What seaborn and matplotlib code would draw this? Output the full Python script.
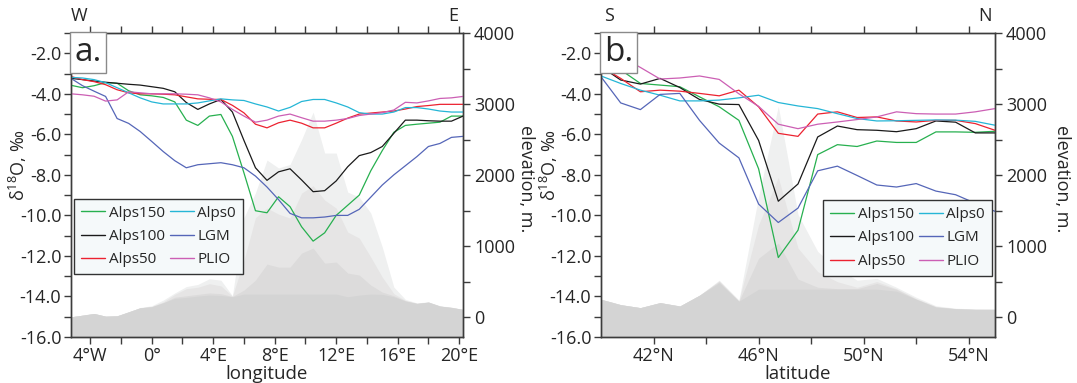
import numpy as np
import pandas as pd
import matplotlib
matplotlib.use("Agg")
import matplotlib.pyplot as plt
from matplotlib.lines import Line2D
from matplotlib.ticker import FixedLocator, FormatStrFormatter
import seaborn as sns

# ---------------- data ----------------
runs = ["Alps150", "Alps100", "Alps50", "Alps0", "LGM", "PLIO"]
run_colors = ["#27b04f", "#1a1a1a", "#ec2230", "#25b6d6", "#5566b8", "#cc5fb4"]

# panel a: W-E transect
lon = [-5.25, -4.5, -3.75, -3.0, -2.25, -1.5, -0.75, 0.0, 0.75, 1.5, 2.25, 3.0,
       3.75, 4.5, 5.25, 6.0, 6.75, 7.5, 8.25, 9.0, 9.75, 10.5, 11.25, 12.0,
       12.75, 13.5, 14.25, 15.0, 15.75, 16.5, 17.25, 18.0, 18.75, 19.5, 20.25]
a_alps150 = [-3.58, -3.7, -3.6, -3.45, -3.48, -3.85, -4.05, -4.1, -4.18, -4.4, -5.3, -5.56,
             -5.1, -5.02, -6.1, -7.9, -9.77, -9.87, -9.08, -9.57, -10.56, -11.27, -10.86, -10.0,
             -9.5, -9.0, -7.8, -6.8, -5.9, -5.56, -5.5, -5.45, -5.4, -5.1, -5.1]
a_alps100 = [-3.24, -3.3, -3.37, -3.43, -3.48, -3.53, -3.57, -3.65, -3.73, -3.9, -4.43, -4.77,
             -4.5, -4.28, -4.9, -6.3, -7.65, -8.27, -7.85, -7.7, -8.25, -8.83, -8.78, -8.3,
             -7.6, -7.05, -6.9, -6.6, -5.95, -5.3, -5.3, -5.33, -5.35, -5.35, -5.1]
a_alps50 = [-3.15, -3.3, -3.4, -3.55, -3.8, -3.95, -4.0, -4.0, -4.02, -4.05, -4.15, -4.25,
            -4.27, -4.28, -4.57, -4.94, -5.5, -5.68, -5.43, -5.3, -5.45, -5.68, -5.68, -5.45,
            -5.2, -5.0, -4.95, -4.9, -4.85, -4.75, -4.63, -4.58, -4.52, -4.52, -4.52]
a_alps0 = [-3.19, -3.22, -3.3, -3.45, -3.7, -3.95, -4.2, -4.4, -4.5, -4.5, -4.5, -4.45,
           -4.35, -4.25, -4.3, -4.33, -4.5, -4.65, -4.85, -4.67, -4.38, -4.28, -4.28, -4.45,
           -4.65, -4.93, -5.0, -5.0, -4.9, -4.68, -4.68, -4.75, -4.85, -4.9, -4.9]
a_lgm = [-3.24, -3.6, -3.87, -4.13, -5.22, -5.46, -5.86, -6.35, -6.85, -7.3, -7.65, -7.5,
         -7.45, -7.4, -7.5, -7.65, -8.06, -8.6, -9.22, -9.9, -10.12, -10.12, -10.08, -10.0,
         -10.0, -9.7, -9.1, -8.5, -8.0, -7.55, -7.1, -6.6, -6.45, -6.15, -6.1]
a_plio = [-4.0, -4.05, -4.12, -4.36, -4.3, -3.9, -3.95, -4.0, -4.0, -4.0, -4.02, -4.05,
          -4.2, -4.4, -4.77, -5.1, -5.4, -5.3, -5.1, -5.0, -5.18, -5.35, -5.35, -5.3,
          -5.22, -5.07, -5.0, -4.93, -4.8, -4.42, -4.45, -4.35, -4.23, -4.2, -4.13]
a_topo_min = [4, 27, 51, 13, 18, 74, 131, 146, 202, 263, 277, 296, 310, 305, 286, 324, 324, 324,
              324, 324, 324, 324, 324, 324, 286, 310, 324, 320, 286, 225, 192, 211, 155, 136, 108]
a_topo_low = [4, 27, 51, 13, 18, 74, 131, 146, 202, 280, 300, 320, 340, 330, 290, 380, 521, 746,
              704, 704, 901, 972, 760, 775, 620, 592, 451, 352, 300, 230, 192, 211, 155, 136, 108]
a_topo_mid = [4, 27, 51, 13, 18, 74, 131, 150, 215, 320, 400, 420, 470, 440, 295, 800, 1400, 1535,
              1450, 1394, 1746, 1850, 1648, 1535, 1197, 1113, 845, 563, 330, 235, 195, 211, 155, 136, 108]
a_topo_max = [4, 27, 51, 13, 18, 74, 135, 160, 240, 340, 430, 460, 540, 520, 300, 1400, 1750, 2211,
              2100, 2150, 2500, 2887, 2310, 2310, 1760, 1690, 1465, 986, 423, 250, 200, 215, 160, 140, 110]

# panel b: S-N transect
lat = [40.0, 40.75, 41.5, 42.25, 43.0, 43.75, 44.5, 45.25, 46.0, 46.75, 47.5,
       48.25, 49.0, 49.75, 50.5, 51.25, 52.0, 52.75, 53.5, 54.25, 55.0]
b_alps150 = [-2.66, -2.82, -3.49, -3.57, -3.65, -4.15, -4.64, -5.31, -7.7, -12.08, -10.73,
             -7.0, -6.51, -6.6, -6.33, -6.4, -6.4, -5.88, -5.88, -5.9, -5.85]
b_alps100 = [-2.66, -3.32, -3.52, -3.24, -3.69, -4.28, -4.51, -4.53, -6.3, -9.3, -8.45,
             -6.13, -5.59, -5.77, -5.8, -5.87, -5.72, -5.34, -5.4, -5.93, -5.93]
b_alps50 = [-2.66, -3.24, -3.9, -3.82, -3.87, -3.98, -4.1, -3.82, -4.64, -5.95, -6.1,
            -5.0, -4.89, -5.17, -5.14, -5.34, -5.39, -5.31, -5.31, -5.47, -5.8]
b_alps0 = [-3.12, -3.49, -3.82, -4.07, -4.35, -4.35, -4.31, -4.2, -4.07, -4.43, -4.6,
           -4.73, -4.98, -5.22, -5.34, -5.33, -5.31, -5.29, -5.3, -5.36, -5.55]
b_lgm = [-3.16, -4.45, -4.78, -4.03, -3.98, -5.31, -6.43, -7.16, -9.44, -10.35, -9.64,
         -7.8, -7.57, -8.03, -8.5, -8.6, -8.43, -8.8, -8.98, -9.4, -9.8]
b_plio = [-1.7, -2.15, -2.7, -3.27, -3.22, -3.12, -3.29, -4.0, -4.62, -5.5, -5.72,
          -5.5, -5.39, -5.27, -5.14, -4.89, -4.98, -5.0, -5.0, -4.89, -4.73]
b_topo_min = [251, 175, 133, 204, 156, 308, 483, 223, 393, 393, 393, 393, 393, 393, 393, 365,
              251, 142, 118, 109, 109]
b_topo_low = [251, 175, 133, 204, 156, 308, 500, 223, 829, 1043, 535, 420, 400, 400, 474, 390,
              251, 142, 118, 109, 109]
b_topo_mid = [251, 175, 133, 204, 156, 308, 510, 230, 1300, 1967, 972, 640, 498, 420, 500, 400,
              260, 150, 120, 110, 110]
b_topo_max = [251, 175, 133, 204, 156, 308, 520, 240, 1700, 2970, 1445, 924, 687, 520, 545, 420,
              280, 160, 125, 115, 112]

a_xticks = [-4, 0, 4, 8, 12, 16, 20]
a_xticklabels = ["4°W", "0°", "4°E", "8°E", "12°E", "16°E", "20°E"]
a_xminor = [-2, 2, 6, 10, 14, 18]
b_xticks = [42, 46, 50, 54]
b_xticklabels = ["42°N", "46°N", "50°N", "54°N"]
b_xminor = [44, 48, 52]
topo_colors = ["#eff0f0", "#e6e5e5", "#dcdbdb", "#d4d4d4"]

# ---------------- style ----------------
sns.set_style("ticks")
FONT = ["Open Sans", "DejaVu Sans"]
plt.rcParams["font.family"] = FONT
plt.rcParams["axes.unicode_minus"] = False
plt.rcParams["mathtext.fontset"] = "custom"
plt.rcParams["mathtext.rm"] = "Open Sans"
plt.rcParams["mathtext.it"] = "Open Sans"
plt.rcParams["mathtext.default"] = "regular"
SPINE = "#3c3c3c"

fig = plt.figure(figsize=(10.77, 3.83), dpi=100)
ax_a = fig.add_axes([71 / 1077, 46 / 383, 392 / 1077, 304 / 383])
ax_b = fig.add_axes([601 / 1077, 46 / 383, 394 / 1077, 304 / 383])


def panel(ax, x, series, topo, xlim, xticks, xlabels, xminor, xlabel,
          tops, letter, leg_loc, leg_anchor, ylab_x, rlab_x):
    ax2 = ax.twinx()
    for layer, c in zip(topo, topo_colors):
        ax2.fill_between(x, -280, layer, color=c, lw=0)
    ax2.set_ylim(-280, 4000)
    ax2.yaxis.set_major_locator(FixedLocator([0, 1000, 2000, 3000, 4000]))
    ax2.yaxis.set_minor_locator(FixedLocator([500, 1500, 2500, 3500]))
    ax2.tick_params(axis="y", which="both", direction="out", length=5, width=1,
                    color=SPINE, labelsize=13, pad=3)
    ax2.set_ylabel("elevation, m.", rotation=270, fontsize=13, va="center")
    ax2.yaxis.set_label_coords(rlab_x, 0.52)

    df = pd.DataFrame({
        "x": np.tile(x, len(runs)),
        "v": np.concatenate(series),
        "run": np.repeat(runs, len(x)),
    })
    sns.lineplot(data=df, x="x", y="v", hue="run", hue_order=runs,
                 palette=run_colors, sort=False, estimator=None, lw=0.9,
                 legend=False, ax=ax)
    ax.set_zorder(ax2.get_zorder() + 1)
    ax.patch.set_visible(False)

    ax.set_xlim(*xlim)
    ax.set_ylim(-16, -1)
    ax.yaxis.set_major_locator(FixedLocator(np.arange(-16, -1, 2)))
    ax.yaxis.set_minor_locator(FixedLocator(np.arange(-15, 0, 2)))
    ax.yaxis.set_major_formatter(FormatStrFormatter("%.1f"))
    ax.set_xticks(xticks)
    ax.set_xticklabels(xlabels)
    ax.xaxis.set_minor_locator(FixedLocator(xminor))
    ax.tick_params(axis="both", which="both", direction="out", length=5,
                   width=1, color=SPINE, labelsize=13, pad=2)
    ax.tick_params(axis="x", which="both", top=True, labeltop=False)
    ax.set_xlabel(xlabel, fontsize=13.5, labelpad=0)
    ax.set_ylabel("δ$^{18}$O, ‰", fontsize=13, va="center")
    ax.yaxis.set_label_coords(ylab_x, 0.565)
    for a in (ax, ax2):
        for s in a.spines.values():
            s.set_color(SPINE)
            s.set_linewidth(1)

    ax.text(0.02, 1.025, tops[0], transform=ax.transAxes, fontsize=13,
            ha="center", va="bottom")
    ax.text(0.975, 1.025, tops[1], transform=ax.transAxes, fontsize=13,
            ha="center", va="bottom")
    ax.text(0.008, 0.99, letter, transform=ax.transAxes, fontsize=24,
            ha="left", va="top",
            bbox=dict(boxstyle="square,pad=0.12", fc="white", ec="#8a8a8a", lw=1))

    handles = [Line2D([], [], color=c, lw=1.0) for c in run_colors]
    leg = ax.legend(handles, runs, ncol=2, loc=leg_loc,
                    bbox_to_anchor=leg_anchor, fontsize=11, frameon=True,
                    fancybox=False, edgecolor="#333333", facecolor="#f5f9fa",
                    framealpha=1, handlelength=1.6, handletextpad=0.2,
                    columnspacing=0.35, labelspacing=0.55, borderpad=0.45,
                    borderaxespad=0)
    leg.get_frame().set_linewidth(1)


panel(ax_a, lon, [a_alps150, a_alps100, a_alps50, a_alps0, a_lgm, a_plio],
      [a_topo_max, a_topo_mid, a_topo_low, a_topo_min], (-5.25, 20.25),
      a_xticks, a_xticklabels, a_xminor, "longitude", ("W", "E"), "a.",
      "upper left", (0.008, 0.455), -0.135, 1.16)
panel(ax_b, lat, [b_alps150, b_alps100, b_alps50, b_alps0, b_lgm, b_plio],
      [b_topo_max, b_topo_mid, b_topo_low, b_topo_min], (40, 55),
      b_xticks, b_xticklabels, b_xminor, "latitude", ("S", "N"), "b.",
      "upper right", (0.992, 0.45), -0.133, 1.17)

fig.savefig("out.png", dpi=100)
